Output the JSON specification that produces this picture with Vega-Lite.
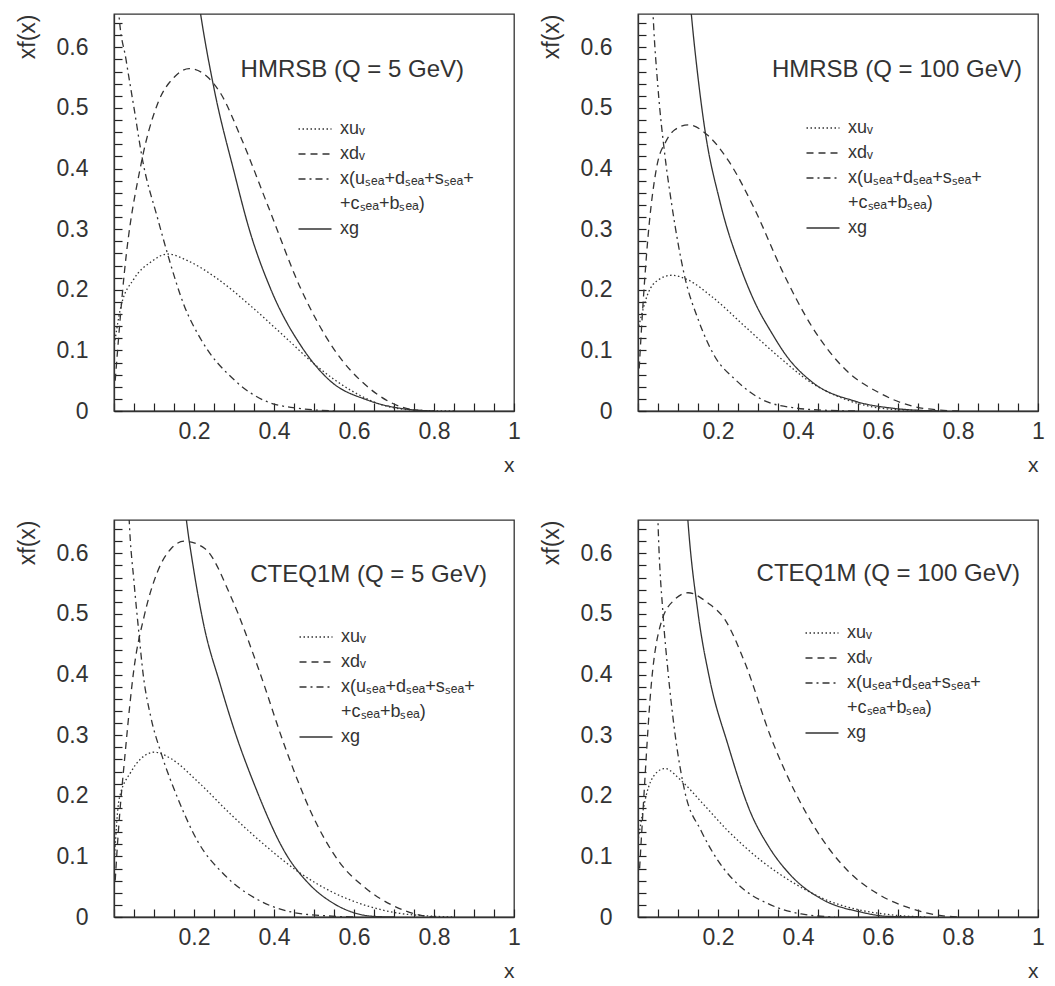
{
  "$schema": "https://vega.github.io/schema/vega-lite/v6.json",
  "padding": {"left": 15, "top": 11, "right": 5, "bottom": 0},
  "autosize": {"type": "pad"},
  "background": "white",
  "config": {
    "font": "Liberation Sans",
    "view": {"stroke": "#333", "strokeWidth": 1.3},
    "axis": {"domainColor": "#333", "domainWidth": 1.3, "labelColor": "#333", "titleColor": "#333", "labelFont": "Liberation Sans", "titleFont": "Liberation Sans", "grid": false, "labelFontSize": 23, "titleFontSize": 23, "titleFontWeight": "normal", "labelOverlap": false, "labelFlush": false},
    "legend": {"labelFont": "Liberation Sans", "labelFontSize": 18, "labelColor": "#333"},
    "title": {"font": "Liberation Sans", "fontSize": 24, "fontWeight": "normal", "color": "#333"}
  },
  "datasets": {
    "pdf": [
      {"panel": "A", "series": "xuv", "x": 0.001, "y": 0.11},
      {"panel": "A", "series": "xuv", "x": 0.0175, "y": 0.173},
      {"panel": "A", "series": "xuv", "x": 0.05, "y": 0.218},
      {"panel": "A", "series": "xuv", "x": 0.0925, "y": 0.246},
      {"panel": "A", "series": "xuv", "x": 0.134, "y": 0.259},
      {"panel": "A", "series": "xuv", "x": 0.184, "y": 0.248},
      {"panel": "A", "series": "xuv", "x": 0.259, "y": 0.218},
      {"panel": "A", "series": "xuv", "x": 0.3425, "y": 0.173},
      {"panel": "A", "series": "xuv", "x": 0.426, "y": 0.123},
      {"panel": "A", "series": "xuv", "x": 0.509, "y": 0.073},
      {"panel": "A", "series": "xuv", "x": 0.5925, "y": 0.034},
      {"panel": "A", "series": "xuv", "x": 0.676, "y": 0.009},
      {"panel": "A", "series": "xuv", "x": 0.76, "y": 0.001},
      {"panel": "A", "series": "xuv", "x": 0.85, "y": 0},
      {"panel": "A", "series": "xdv", "x": 0.003, "y": 0.05},
      {"panel": "A", "series": "xdv", "x": 0.026, "y": 0.229},
      {"panel": "A", "series": "xdv", "x": 0.0675, "y": 0.407},
      {"panel": "A", "series": "xdv", "x": 0.109, "y": 0.507},
      {"panel": "A", "series": "xdv", "x": 0.151, "y": 0.551},
      {"panel": "A", "series": "xdv", "x": 0.188, "y": 0.565},
      {"panel": "A", "series": "xdv", "x": 0.234, "y": 0.551},
      {"panel": "A", "series": "xdv", "x": 0.2675, "y": 0.523},
      {"panel": "A", "series": "xdv", "x": 0.3175, "y": 0.451},
      {"panel": "A", "series": "xdv", "x": 0.384, "y": 0.34},
      {"panel": "A", "series": "xdv", "x": 0.4675, "y": 0.201},
      {"panel": "A", "series": "xdv", "x": 0.551, "y": 0.101},
      {"panel": "A", "series": "xdv", "x": 0.634, "y": 0.04},
      {"panel": "A", "series": "xdv", "x": 0.7175, "y": 0.007},
      {"panel": "A", "series": "xdv", "x": 0.78, "y": 0},
      {"panel": "A", "series": "sea", "x": 0.004, "y": 0.78},
      {"panel": "A", "series": "sea", "x": 0.012, "y": 0.657},
      {"panel": "A", "series": "sea", "x": 0.03, "y": 0.58},
      {"panel": "A", "series": "sea", "x": 0.05, "y": 0.5},
      {"panel": "A", "series": "sea", "x": 0.072, "y": 0.412},
      {"panel": "A", "series": "sea", "x": 0.109, "y": 0.318},
      {"panel": "A", "series": "sea", "x": 0.134, "y": 0.259},
      {"panel": "A", "series": "sea", "x": 0.176, "y": 0.173},
      {"panel": "A", "series": "sea", "x": 0.2175, "y": 0.118},
      {"panel": "A", "series": "sea", "x": 0.301, "y": 0.051},
      {"panel": "A", "series": "sea", "x": 0.384, "y": 0.015},
      {"panel": "A", "series": "sea", "x": 0.4675, "y": 0.004},
      {"panel": "A", "series": "sea", "x": 0.551, "y": 0},
      {"panel": "A", "series": "xg", "x": 0.2, "y": 0.73},
      {"panel": "A", "series": "xg", "x": 0.216, "y": 0.657},
      {"panel": "A", "series": "xg", "x": 0.251, "y": 0.529},
      {"panel": "A", "series": "xg", "x": 0.3, "y": 0.395},
      {"panel": "A", "series": "xg", "x": 0.338, "y": 0.3},
      {"panel": "A", "series": "xg", "x": 0.3925, "y": 0.2},
      {"panel": "A", "series": "xg", "x": 0.47, "y": 0.105},
      {"panel": "A", "series": "xg", "x": 0.54, "y": 0.05},
      {"panel": "A", "series": "xg", "x": 0.634, "y": 0.018},
      {"panel": "A", "series": "xg", "x": 0.72, "y": 0.004},
      {"panel": "A", "series": "xg", "x": 0.8, "y": 0},

      {"panel": "B", "series": "xuv", "x": 0.002, "y": 0.14},
      {"panel": "B", "series": "xuv", "x": 0.025, "y": 0.194},
      {"panel": "B", "series": "xuv", "x": 0.05, "y": 0.216},
      {"panel": "B", "series": "xuv", "x": 0.084, "y": 0.224},
      {"panel": "B", "series": "xuv", "x": 0.126, "y": 0.216},
      {"panel": "B", "series": "xuv", "x": 0.184, "y": 0.189},
      {"panel": "B", "series": "xuv", "x": 0.268, "y": 0.139},
      {"panel": "B", "series": "xuv", "x": 0.351, "y": 0.09},
      {"panel": "B", "series": "xuv", "x": 0.435, "y": 0.046},
      {"panel": "B", "series": "xuv", "x": 0.519, "y": 0.019},
      {"panel": "B", "series": "xuv", "x": 0.603, "y": 0.005},
      {"panel": "B", "series": "xuv", "x": 0.686, "y": 0.001},
      {"panel": "B", "series": "xuv", "x": 0.75, "y": 0},
      {"panel": "B", "series": "xdv", "x": 0.003, "y": 0.07},
      {"panel": "B", "series": "xdv", "x": 0.008, "y": 0.128},
      {"panel": "B", "series": "xdv", "x": 0.025, "y": 0.287},
      {"panel": "B", "series": "xdv", "x": 0.046, "y": 0.4},
      {"panel": "B", "series": "xdv", "x": 0.07, "y": 0.445},
      {"panel": "B", "series": "xdv", "x": 0.092, "y": 0.464},
      {"panel": "B", "series": "xdv", "x": 0.126, "y": 0.472},
      {"panel": "B", "series": "xdv", "x": 0.176, "y": 0.454},
      {"panel": "B", "series": "xdv", "x": 0.226, "y": 0.413},
      {"panel": "B", "series": "xdv", "x": 0.293, "y": 0.331},
      {"panel": "B", "series": "xdv", "x": 0.36, "y": 0.232},
      {"panel": "B", "series": "xdv", "x": 0.435, "y": 0.139},
      {"panel": "B", "series": "xdv", "x": 0.519, "y": 0.068},
      {"panel": "B", "series": "xdv", "x": 0.603, "y": 0.03},
      {"panel": "B", "series": "xdv", "x": 0.686, "y": 0.008},
      {"panel": "B", "series": "xdv", "x": 0.745, "y": 0.002},
      {"panel": "B", "series": "xdv", "x": 0.8, "y": 0},
      {"panel": "B", "series": "sea", "x": 0.03, "y": 0.78},
      {"panel": "B", "series": "sea", "x": 0.038, "y": 0.65},
      {"panel": "B", "series": "sea", "x": 0.05, "y": 0.533},
      {"panel": "B", "series": "sea", "x": 0.067, "y": 0.423},
      {"panel": "B", "series": "sea", "x": 0.084, "y": 0.342},
      {"panel": "B", "series": "sea", "x": 0.117, "y": 0.221},
      {"panel": "B", "series": "sea", "x": 0.151, "y": 0.15},
      {"panel": "B", "series": "sea", "x": 0.192, "y": 0.09},
      {"panel": "B", "series": "sea", "x": 0.243, "y": 0.052},
      {"panel": "B", "series": "sea", "x": 0.31, "y": 0.019},
      {"panel": "B", "series": "sea", "x": 0.393, "y": 0.005},
      {"panel": "B", "series": "sea", "x": 0.477, "y": 0.001},
      {"panel": "B", "series": "sea", "x": 0.55, "y": 0},
      {"panel": "B", "series": "xg", "x": 0.12, "y": 0.76},
      {"panel": "B", "series": "xg", "x": 0.134, "y": 0.65},
      {"panel": "B", "series": "xg", "x": 0.151, "y": 0.545},
      {"panel": "B", "series": "xg", "x": 0.167, "y": 0.465},
      {"panel": "B", "series": "xg", "x": 0.205, "y": 0.345},
      {"panel": "B", "series": "xg", "x": 0.259, "y": 0.232},
      {"panel": "B", "series": "xg", "x": 0.293, "y": 0.178},
      {"panel": "B", "series": "xg", "x": 0.335, "y": 0.128},
      {"panel": "B", "series": "xg", "x": 0.37, "y": 0.092},
      {"panel": "B", "series": "xg", "x": 0.435, "y": 0.048},
      {"panel": "B", "series": "xg", "x": 0.544, "y": 0.016},
      {"panel": "B", "series": "xg", "x": 0.644, "y": 0.004},
      {"panel": "B", "series": "xg", "x": 0.75, "y": 0},

      {"panel": "C", "series": "xuv", "x": 0.001, "y": 0.096},
      {"panel": "C", "series": "xuv", "x": 0.013, "y": 0.195},
      {"panel": "C", "series": "xuv", "x": 0.042, "y": 0.239},
      {"panel": "C", "series": "xuv", "x": 0.067, "y": 0.261},
      {"panel": "C", "series": "xuv", "x": 0.101, "y": 0.272},
      {"panel": "C", "series": "xuv", "x": 0.143, "y": 0.261},
      {"panel": "C", "series": "xuv", "x": 0.21, "y": 0.223},
      {"panel": "C", "series": "xuv", "x": 0.294, "y": 0.168},
      {"panel": "C", "series": "xuv", "x": 0.378, "y": 0.118},
      {"panel": "C", "series": "xuv", "x": 0.462, "y": 0.074},
      {"panel": "C", "series": "xuv", "x": 0.546, "y": 0.041},
      {"panel": "C", "series": "xuv", "x": 0.63, "y": 0.019},
      {"panel": "C", "series": "xuv", "x": 0.714, "y": 0.006},
      {"panel": "C", "series": "xuv", "x": 0.78, "y": 0.002},
      {"panel": "C", "series": "xuv", "x": 0.85, "y": 0},
      {"panel": "C", "series": "xdv", "x": 0.003, "y": 0.06},
      {"panel": "C", "series": "xdv", "x": 0.008, "y": 0.113},
      {"panel": "C", "series": "xdv", "x": 0.029, "y": 0.278},
      {"panel": "C", "series": "xdv", "x": 0.05, "y": 0.41},
      {"panel": "C", "series": "xdv", "x": 0.076, "y": 0.498},
      {"panel": "C", "series": "xdv", "x": 0.109, "y": 0.57},
      {"panel": "C", "series": "xdv", "x": 0.143, "y": 0.608},
      {"panel": "C", "series": "xdv", "x": 0.176, "y": 0.62},
      {"panel": "C", "series": "xdv", "x": 0.227, "y": 0.608},
      {"panel": "C", "series": "xdv", "x": 0.294, "y": 0.526},
      {"panel": "C", "series": "xdv", "x": 0.361, "y": 0.41},
      {"panel": "C", "series": "xdv", "x": 0.429, "y": 0.278},
      {"panel": "C", "series": "xdv", "x": 0.496, "y": 0.168},
      {"panel": "C", "series": "xdv", "x": 0.563, "y": 0.091},
      {"panel": "C", "series": "xdv", "x": 0.63, "y": 0.047},
      {"panel": "C", "series": "xdv", "x": 0.697, "y": 0.019},
      {"panel": "C", "series": "xdv", "x": 0.765, "y": 0.003},
      {"panel": "C", "series": "xdv", "x": 0.8, "y": 0},
      {"panel": "C", "series": "sea", "x": 0.03, "y": 0.8},
      {"panel": "C", "series": "sea", "x": 0.038, "y": 0.655},
      {"panel": "C", "series": "sea", "x": 0.05, "y": 0.553},
      {"panel": "C", "series": "sea", "x": 0.062, "y": 0.47},
      {"panel": "C", "series": "sea", "x": 0.073, "y": 0.4},
      {"panel": "C", "series": "sea", "x": 0.092, "y": 0.33},
      {"panel": "C", "series": "sea", "x": 0.118, "y": 0.27},
      {"panel": "C", "series": "sea", "x": 0.16, "y": 0.195},
      {"panel": "C", "series": "sea", "x": 0.21, "y": 0.124},
      {"panel": "C", "series": "sea", "x": 0.277, "y": 0.069},
      {"panel": "C", "series": "sea", "x": 0.361, "y": 0.028},
      {"panel": "C", "series": "sea", "x": 0.445, "y": 0.008},
      {"panel": "C", "series": "sea", "x": 0.529, "y": 0.002},
      {"panel": "C", "series": "sea", "x": 0.6, "y": 0},
      {"panel": "C", "series": "xg", "x": 0.17, "y": 0.72},
      {"panel": "C", "series": "xg", "x": 0.181, "y": 0.655},
      {"panel": "C", "series": "xg", "x": 0.2, "y": 0.57},
      {"panel": "C", "series": "xg", "x": 0.225, "y": 0.48},
      {"panel": "C", "series": "xg", "x": 0.265, "y": 0.385},
      {"panel": "C", "series": "xg", "x": 0.3, "y": 0.31},
      {"panel": "C", "series": "xg", "x": 0.353, "y": 0.215},
      {"panel": "C", "series": "xg", "x": 0.429, "y": 0.105},
      {"panel": "C", "series": "xg", "x": 0.487, "y": 0.055},
      {"panel": "C", "series": "xg", "x": 0.55, "y": 0.022},
      {"panel": "C", "series": "xg", "x": 0.6, "y": 0.007},
      {"panel": "C", "series": "xg", "x": 0.65, "y": 0.001},
      {"panel": "C", "series": "xg", "x": 0.7, "y": 0},

      {"panel": "D", "series": "xuv", "x": 0.001, "y": 0.13},
      {"panel": "D", "series": "xuv", "x": 0.021, "y": 0.202},
      {"panel": "D", "series": "xuv", "x": 0.042, "y": 0.235},
      {"panel": "D", "series": "xuv", "x": 0.067, "y": 0.245},
      {"panel": "D", "series": "xuv", "x": 0.108, "y": 0.225},
      {"panel": "D", "series": "xuv", "x": 0.158, "y": 0.19},
      {"panel": "D", "series": "xuv", "x": 0.225, "y": 0.142},
      {"panel": "D", "series": "xuv", "x": 0.308, "y": 0.093},
      {"panel": "D", "series": "xuv", "x": 0.392, "y": 0.055},
      {"panel": "D", "series": "xuv", "x": 0.475, "y": 0.027},
      {"panel": "D", "series": "xuv", "x": 0.558, "y": 0.011},
      {"panel": "D", "series": "xuv", "x": 0.642, "y": 0.003},
      {"panel": "D", "series": "xuv", "x": 0.72, "y": 0},
      {"panel": "D", "series": "xdv", "x": 0.004, "y": 0.08},
      {"panel": "D", "series": "xdv", "x": 0.0125, "y": 0.175},
      {"panel": "D", "series": "xdv", "x": 0.033, "y": 0.382},
      {"panel": "D", "series": "xdv", "x": 0.058, "y": 0.486},
      {"panel": "D", "series": "xdv", "x": 0.092, "y": 0.524},
      {"panel": "D", "series": "xdv", "x": 0.125, "y": 0.535},
      {"panel": "D", "series": "xdv", "x": 0.175, "y": 0.518},
      {"panel": "D", "series": "xdv", "x": 0.217, "y": 0.491},
      {"panel": "D", "series": "xdv", "x": 0.267, "y": 0.42},
      {"panel": "D", "series": "xdv", "x": 0.333, "y": 0.295},
      {"panel": "D", "series": "xdv", "x": 0.392, "y": 0.207},
      {"panel": "D", "series": "xdv", "x": 0.458, "y": 0.131},
      {"panel": "D", "series": "xdv", "x": 0.525, "y": 0.076},
      {"panel": "D", "series": "xdv", "x": 0.6, "y": 0.038},
      {"panel": "D", "series": "xdv", "x": 0.683, "y": 0.014},
      {"panel": "D", "series": "xdv", "x": 0.75, "y": 0.003},
      {"panel": "D", "series": "xdv", "x": 0.8, "y": 0},
      {"panel": "D", "series": "sea", "x": 0.045, "y": 0.78},
      {"panel": "D", "series": "sea", "x": 0.05, "y": 0.652},
      {"panel": "D", "series": "sea", "x": 0.0625, "y": 0.5},
      {"panel": "D", "series": "sea", "x": 0.075, "y": 0.405},
      {"panel": "D", "series": "sea", "x": 0.092, "y": 0.305},
      {"panel": "D", "series": "sea", "x": 0.117, "y": 0.207},
      {"panel": "D", "series": "sea", "x": 0.158, "y": 0.142},
      {"panel": "D", "series": "sea", "x": 0.2, "y": 0.093},
      {"panel": "D", "series": "sea", "x": 0.258, "y": 0.049},
      {"panel": "D", "series": "sea", "x": 0.325, "y": 0.022},
      {"panel": "D", "series": "sea", "x": 0.408, "y": 0.005},
      {"panel": "D", "series": "sea", "x": 0.492, "y": 0},
      {"panel": "D", "series": "xg", "x": 0.115, "y": 0.75},
      {"panel": "D", "series": "xg", "x": 0.125, "y": 0.652},
      {"panel": "D", "series": "xg", "x": 0.15, "y": 0.502},
      {"panel": "D", "series": "xg", "x": 0.179, "y": 0.393},
      {"panel": "D", "series": "xg", "x": 0.225, "y": 0.284},
      {"panel": "D", "series": "xg", "x": 0.283, "y": 0.17},
      {"panel": "D", "series": "xg", "x": 0.325, "y": 0.118},
      {"panel": "D", "series": "xg", "x": 0.383, "y": 0.068},
      {"panel": "D", "series": "xg", "x": 0.458, "y": 0.03},
      {"panel": "D", "series": "xg", "x": 0.558, "y": 0.008},
      {"panel": "D", "series": "xg", "x": 0.625, "y": 0.001},
      {"panel": "D", "series": "xg", "x": 0.7, "y": 0}
    ]
  },
  "spacing": 41,
  "resolve": {"scale": {"strokeDash": "independent"}, "legend": {"strokeDash": "independent"}},
  "vconcat": [
    {
      "spacing": 124,
      "bounds": "flush",
      "resolve": {"scale": {"strokeDash": "independent"}, "legend": {"strokeDash": "independent"}},
      "hconcat": [
        {
          "width": 400, "height": 397,
          "data": {"name": "pdf"},
          "transform": [{"filter": "datum.panel === 'A'"}],
          "title": {"text": "HMRSB (Q = 5 GeV)", "orient": "top", "anchor": "end", "frame": "group", "offset": 0, "baseline": "middle", "dx": -50, "dy": 82},
          "mark": {"type": "line", "clip": true, "interpolate": "monotone", "strokeWidth": 1.3, "color": "#333"},
          "encoding": {
            "x": {"field": "x", "type": "quantitative", "scale": {"domain": [0, 1], "nice": false},
              "axis": {"values": [0, 0.05, 0.1, 0.15, 0.2, 0.25, 0.3, 0.35, 0.4, 0.45, 0.5, 0.55, 0.6, 0.65, 0.7, 0.75, 0.8, 0.85, 0.9, 0.95, 1],
                "ticks": true, "tickSize": -8, "tickColor": "#222", "tickWidth": 1.2, "labelPadding": 17,
                "labelExpr": "datum.value > 0 && abs(datum.value*5 - round(datum.value*5)) < 0.001 ? format(datum.value, '~g') : ''",
                "title": "x", "titleX": 400, "titleY": 54, "titleAlign": "right", "titleBaseline": "middle", "titleFontSize": 21}},
            "y": {"field": "y", "type": "quantitative", "scale": {"domain": [0, 0.655], "nice": false, "zero": false},
              "axis": {"values": [0, 0.02, 0.04, 0.06, 0.08, 0.1, 0.12, 0.14, 0.16, 0.18, 0.2, 0.22, 0.24, 0.26, 0.28, 0.3, 0.32, 0.34, 0.36, 0.38, 0.4, 0.42, 0.44, 0.46, 0.48, 0.5, 0.52, 0.54, 0.56, 0.58, 0.6, 0.62, 0.64],
                "ticks": true, "tickSize": -8, "tickColor": "#222", "tickWidth": 1.2, "labelPadding": 34,
                "labelExpr": "abs(datum.value*10 - round(datum.value*10)) < 0.001 ? format(datum.value, '~g') : ''",
                "title": "xf(x)", "titleX": -87, "titleY": 0, "titleAlign": "right", "titleBaseline": "middle", "titleAngle": -90}},
            "strokeDash": {"field": "series", "type": "nominal",
              "scale": {"domain": ["xuv", "xdv", "sea", "cont", "xg"], "range": [[1.5, 2.5], [7, 5], [7, 4, 2, 4], [0, 100], [1, 0]]},
              "legend": {"orient": "none", "legendX": 191, "legendY": 105, "title": null, "symbolType": "M-1.8333,0H1.8333", "symbolSize": 324, "symbolStrokeWidth": 1.3, "symbolStrokeColor": "#333", "labelOffset": 15, "rowPadding": 6, "labelLimit": 400,
                "labelExpr": "datum.value === 'xuv' ? 'xu\u1d65' : datum.value === 'xdv' ? 'xd\u1d65' : datum.value === 'sea' ? 'x(u\u209b\u2091\u2090+d\u209b\u2091\u2090+s\u209b\u2091\u2090+' : datum.value === 'cont' ? '+c\u209b\u2091\u2090+b\u209b\u2091\u2090)' : 'xg'"}}
          }
        },
        {
          "width": 400, "height": 397,
          "data": {"name": "pdf"},
          "transform": [{"filter": "datum.panel === 'B'"}],
          "title": {"text": "HMRSB (Q = 100 GeV)", "orient": "top", "anchor": "end", "frame": "group", "offset": 0, "baseline": "middle", "dx": -16, "dy": 82},
          "mark": {"type": "line", "clip": true, "interpolate": "monotone", "strokeWidth": 1.3, "color": "#333"},
          "encoding": {
            "x": {"field": "x", "type": "quantitative", "scale": {"domain": [0, 1], "nice": false},
              "axis": {"values": [0, 0.05, 0.1, 0.15, 0.2, 0.25, 0.3, 0.35, 0.4, 0.45, 0.5, 0.55, 0.6, 0.65, 0.7, 0.75, 0.8, 0.85, 0.9, 0.95, 1],
                "ticks": true, "tickSize": -8, "tickColor": "#222", "tickWidth": 1.2, "labelPadding": 17,
                "labelExpr": "datum.value > 0 && abs(datum.value*5 - round(datum.value*5)) < 0.001 ? format(datum.value, '~g') : ''",
                "title": "x", "titleX": 400, "titleY": 54, "titleAlign": "right", "titleBaseline": "middle", "titleFontSize": 21}},
            "y": {"field": "y", "type": "quantitative", "scale": {"domain": [0, 0.655], "nice": false, "zero": false},
              "axis": {"values": [0, 0.02, 0.04, 0.06, 0.08, 0.1, 0.12, 0.14, 0.16, 0.18, 0.2, 0.22, 0.24, 0.26, 0.28, 0.3, 0.32, 0.34, 0.36, 0.38, 0.4, 0.42, 0.44, 0.46, 0.48, 0.5, 0.52, 0.54, 0.56, 0.58, 0.6, 0.62, 0.64],
                "ticks": true, "tickSize": -8, "tickColor": "#222", "tickWidth": 1.2, "labelPadding": 34,
                "labelExpr": "abs(datum.value*10 - round(datum.value*10)) < 0.001 ? format(datum.value, '~g') : ''",
                "title": "xf(x)", "titleX": -87, "titleY": 0, "titleAlign": "right", "titleBaseline": "middle", "titleAngle": -90}},
            "strokeDash": {"field": "series", "type": "nominal",
              "scale": {"domain": ["xuv", "xdv", "sea", "cont", "xg"], "range": [[1.5, 2.5], [7, 5], [7, 4, 2, 4], [0, 100], [1, 0]]},
              "legend": {"orient": "none", "legendX": 175, "legendY": 104, "title": null, "symbolType": "M-1.8333,0H1.8333", "symbolSize": 324, "symbolStrokeWidth": 1.3, "symbolStrokeColor": "#333", "labelOffset": 15, "rowPadding": 6, "labelLimit": 400,
                "labelExpr": "datum.value === 'xuv' ? 'xu\u1d65' : datum.value === 'xdv' ? 'xd\u1d65' : datum.value === 'sea' ? 'x(u\u209b\u2091\u2090+d\u209b\u2091\u2090+s\u209b\u2091\u2090+' : datum.value === 'cont' ? '+c\u209b\u2091\u2090+b\u209b\u2091\u2090)' : 'xg'"}}
          }
        }
      ]
    },
    {
      "spacing": 124,
      "bounds": "flush",
      "resolve": {"scale": {"strokeDash": "independent"}, "legend": {"strokeDash": "independent"}},
      "hconcat": [
        {
          "width": 400, "height": 397,
          "data": {"name": "pdf"},
          "transform": [{"filter": "datum.panel === 'C'"}],
          "title": {"text": "CTEQ1M (Q = 5 GeV)", "orient": "top", "anchor": "end", "frame": "group", "offset": 0, "baseline": "middle", "dx": -27, "dy": 81},
          "mark": {"type": "line", "clip": true, "interpolate": "monotone", "strokeWidth": 1.3, "color": "#333"},
          "encoding": {
            "x": {"field": "x", "type": "quantitative", "scale": {"domain": [0, 1], "nice": false},
              "axis": {"values": [0, 0.05, 0.1, 0.15, 0.2, 0.25, 0.3, 0.35, 0.4, 0.45, 0.5, 0.55, 0.6, 0.65, 0.7, 0.75, 0.8, 0.85, 0.9, 0.95, 1],
                "ticks": true, "tickSize": -8, "tickColor": "#222", "tickWidth": 1.2, "labelPadding": 17,
                "labelExpr": "datum.value > 0 && abs(datum.value*5 - round(datum.value*5)) < 0.001 ? format(datum.value, '~g') : ''",
                "title": "x", "titleX": 400, "titleY": 54, "titleAlign": "right", "titleBaseline": "middle", "titleFontSize": 21}},
            "y": {"field": "y", "type": "quantitative", "scale": {"domain": [0, 0.655], "nice": false, "zero": false},
              "axis": {"values": [0, 0.02, 0.04, 0.06, 0.08, 0.1, 0.12, 0.14, 0.16, 0.18, 0.2, 0.22, 0.24, 0.26, 0.28, 0.3, 0.32, 0.34, 0.36, 0.38, 0.4, 0.42, 0.44, 0.46, 0.48, 0.5, 0.52, 0.54, 0.56, 0.58, 0.6, 0.62, 0.64],
                "ticks": true, "tickSize": -8, "tickColor": "#222", "tickWidth": 1.2, "labelPadding": 34,
                "labelExpr": "abs(datum.value*10 - round(datum.value*10)) < 0.001 ? format(datum.value, '~g') : ''",
                "title": "xf(x)", "titleX": -87, "titleY": 0, "titleAlign": "right", "titleBaseline": "middle", "titleAngle": -90}},
            "strokeDash": {"field": "series", "type": "nominal",
              "scale": {"domain": ["xuv", "xdv", "sea", "cont", "xg"], "range": [[1.5, 2.5], [7, 5], [7, 4, 2, 4], [0, 100], [1, 0]]},
              "legend": {"orient": "none", "legendX": 192, "legendY": 107, "title": null, "symbolType": "M-1.8333,0H1.8333", "symbolSize": 324, "symbolStrokeWidth": 1.3, "symbolStrokeColor": "#333", "labelOffset": 15, "rowPadding": 6, "labelLimit": 400,
                "labelExpr": "datum.value === 'xuv' ? 'xu\u1d65' : datum.value === 'xdv' ? 'xd\u1d65' : datum.value === 'sea' ? 'x(u\u209b\u2091\u2090+d\u209b\u2091\u2090+s\u209b\u2091\u2090+' : datum.value === 'cont' ? '+c\u209b\u2091\u2090+b\u209b\u2091\u2090)' : 'xg'"}}
          }
        },
        {
          "width": 400, "height": 397,
          "data": {"name": "pdf"},
          "transform": [{"filter": "datum.panel === 'D'"}],
          "title": {"text": "CTEQ1M (Q = 100 GeV)", "orient": "top", "anchor": "end", "frame": "group", "offset": 0, "baseline": "middle", "dx": -18, "dy": 80},
          "mark": {"type": "line", "clip": true, "interpolate": "monotone", "strokeWidth": 1.3, "color": "#333"},
          "encoding": {
            "x": {"field": "x", "type": "quantitative", "scale": {"domain": [0, 1], "nice": false},
              "axis": {"values": [0, 0.05, 0.1, 0.15, 0.2, 0.25, 0.3, 0.35, 0.4, 0.45, 0.5, 0.55, 0.6, 0.65, 0.7, 0.75, 0.8, 0.85, 0.9, 0.95, 1],
                "ticks": true, "tickSize": -8, "tickColor": "#222", "tickWidth": 1.2, "labelPadding": 17,
                "labelExpr": "datum.value > 0 && abs(datum.value*5 - round(datum.value*5)) < 0.001 ? format(datum.value, '~g') : ''",
                "title": "x", "titleX": 400, "titleY": 54, "titleAlign": "right", "titleBaseline": "middle", "titleFontSize": 21}},
            "y": {"field": "y", "type": "quantitative", "scale": {"domain": [0, 0.655], "nice": false, "zero": false},
              "axis": {"values": [0, 0.02, 0.04, 0.06, 0.08, 0.1, 0.12, 0.14, 0.16, 0.18, 0.2, 0.22, 0.24, 0.26, 0.28, 0.3, 0.32, 0.34, 0.36, 0.38, 0.4, 0.42, 0.44, 0.46, 0.48, 0.5, 0.52, 0.54, 0.56, 0.58, 0.6, 0.62, 0.64],
                "ticks": true, "tickSize": -8, "tickColor": "#222", "tickWidth": 1.2, "labelPadding": 34,
                "labelExpr": "abs(datum.value*10 - round(datum.value*10)) < 0.001 ? format(datum.value, '~g') : ''",
                "title": "xf(x)", "titleX": -87, "titleY": 0, "titleAlign": "right", "titleBaseline": "middle", "titleAngle": -90}},
            "strokeDash": {"field": "series", "type": "nominal",
              "scale": {"domain": ["xuv", "xdv", "sea", "cont", "xg"], "range": [[1.5, 2.5], [7, 5], [7, 4, 2, 4], [0, 100], [1, 0]]},
              "legend": {"orient": "none", "legendX": 174, "legendY": 103, "title": null, "symbolType": "M-1.8333,0H1.8333", "symbolSize": 324, "symbolStrokeWidth": 1.3, "symbolStrokeColor": "#333", "labelOffset": 15, "rowPadding": 6, "labelLimit": 400,
                "labelExpr": "datum.value === 'xuv' ? 'xu\u1d65' : datum.value === 'xdv' ? 'xd\u1d65' : datum.value === 'sea' ? 'x(u\u209b\u2091\u2090+d\u209b\u2091\u2090+s\u209b\u2091\u2090+' : datum.value === 'cont' ? '+c\u209b\u2091\u2090+b\u209b\u2091\u2090)' : 'xg'"}}
          }
        }
      ]
    }
  ]
}
